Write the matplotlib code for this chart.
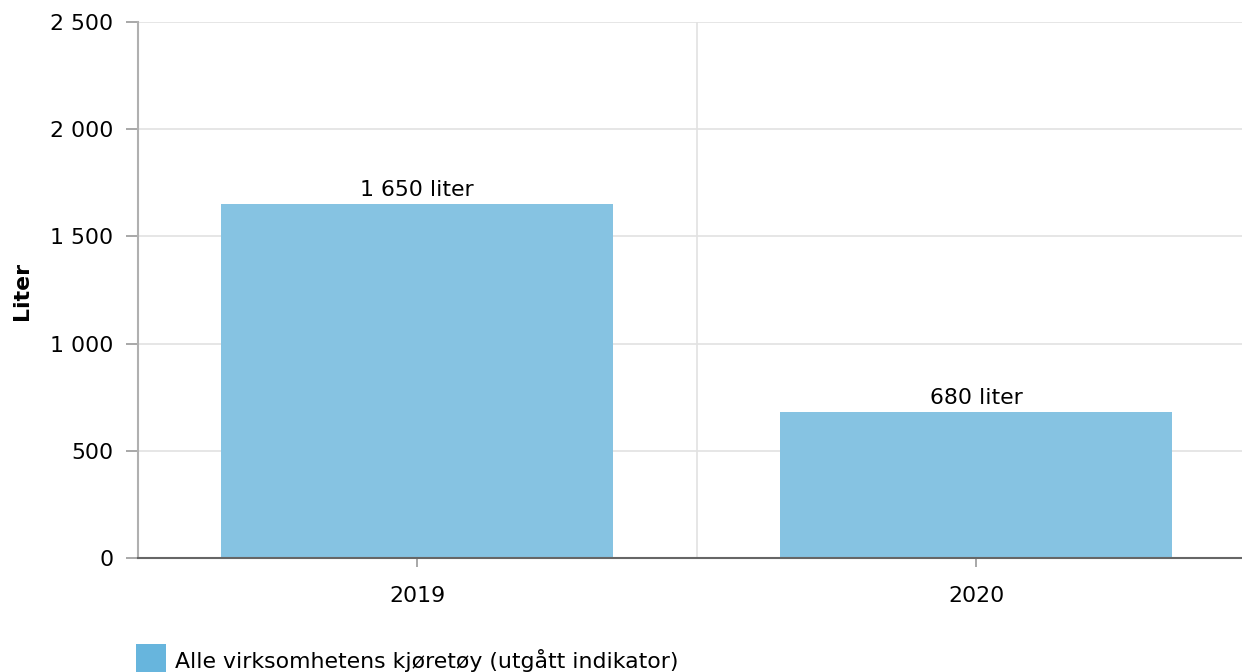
import matplotlib
matplotlib.use("Agg")
import matplotlib.pyplot as plt
from matplotlib.patches import Rectangle
from matplotlib.ticker import FuncFormatter, MultipleLocator

categories = ["2019", "2020"]
values = [1650, 680]
series_name = "Alle virksomhetens kjøretøy (utgått indikator)"
y_label = "Liter"
unit = "liter"

plt.rcParams['font.family'] = ['DejaVu Sans']
FS = 15.8

W, H = 1242, 672
fig = plt.figure(figsize=(W / 100, H / 100), dpi=100)
# axes in pixel coords: left 137.5, right 1255.5, top 22, bottom 558
ax = fig.add_axes([137.5 / W, (H - 558) / H, 1118 / W, (558 - 22) / H])

def fmt(v):
    return f"{int(round(v)):,}".replace(",", " ")

x = list(range(len(categories)))
ax.bar(x, values, width=0.70, color="#86C3E2", zorder=2)
for xi, v in zip(x, values):
    ax.annotate(f"{fmt(v)} {unit}", (xi, v), xytext=(0, 3), textcoords="offset points",
                ha="center", va="bottom", fontsize=FS, color="#000000")

ax.set_xlim(-0.5, 1.5)
ax.set_ylim(0, 2500)
ax.yaxis.set_major_locator(MultipleLocator(500))
ax.yaxis.set_major_formatter(FuncFormatter(lambda v, p: fmt(v)))
ax.set_xticks(x)
ax.set_xticklabels(categories)
ax.set_xticks([0.5], minor=True)

ax.grid(axis="y", color="#e2e2e2", linewidth=1.2, zorder=0)
ax.grid(axis="x", which="minor", color="#e2e2e2", linewidth=1.2, zorder=0)
ax.grid(axis="x", which="major", visible=False)

for s in ["top", "right"]:
    ax.spines[s].set_visible(False)
ax.spines["left"].set_color("#b0b0b0")
ax.spines["left"].set_linewidth(1.5)
ax.spines["bottom"].set_color("#666666")
ax.spines["bottom"].set_linewidth(1.5)

ax.tick_params(axis="y", length=8.5, width=1.2, color="#999999", labelsize=FS, pad=9)
ax.tick_params(axis="x", which="major", length=6.5, width=1.2, color="#999999", labelsize=FS, pad=13.5)
ax.tick_params(axis="x", which="minor", length=0)

fig.text(22 / W, 1 - 291 / H, y_label, rotation=90, fontsize=FS, fontweight="bold",
         ha="center", va="center")

# legend
fig.patches.append(Rectangle((136 / W, 0), 30 / W, 28 / H, transform=fig.transFigure,
                             facecolor="#67B5DD", edgecolor="none"))
fig.text(175 / W, 12 / H, series_name, fontsize=FS, ha="left", va="center")

fig.savefig("out.png", dpi=100)
